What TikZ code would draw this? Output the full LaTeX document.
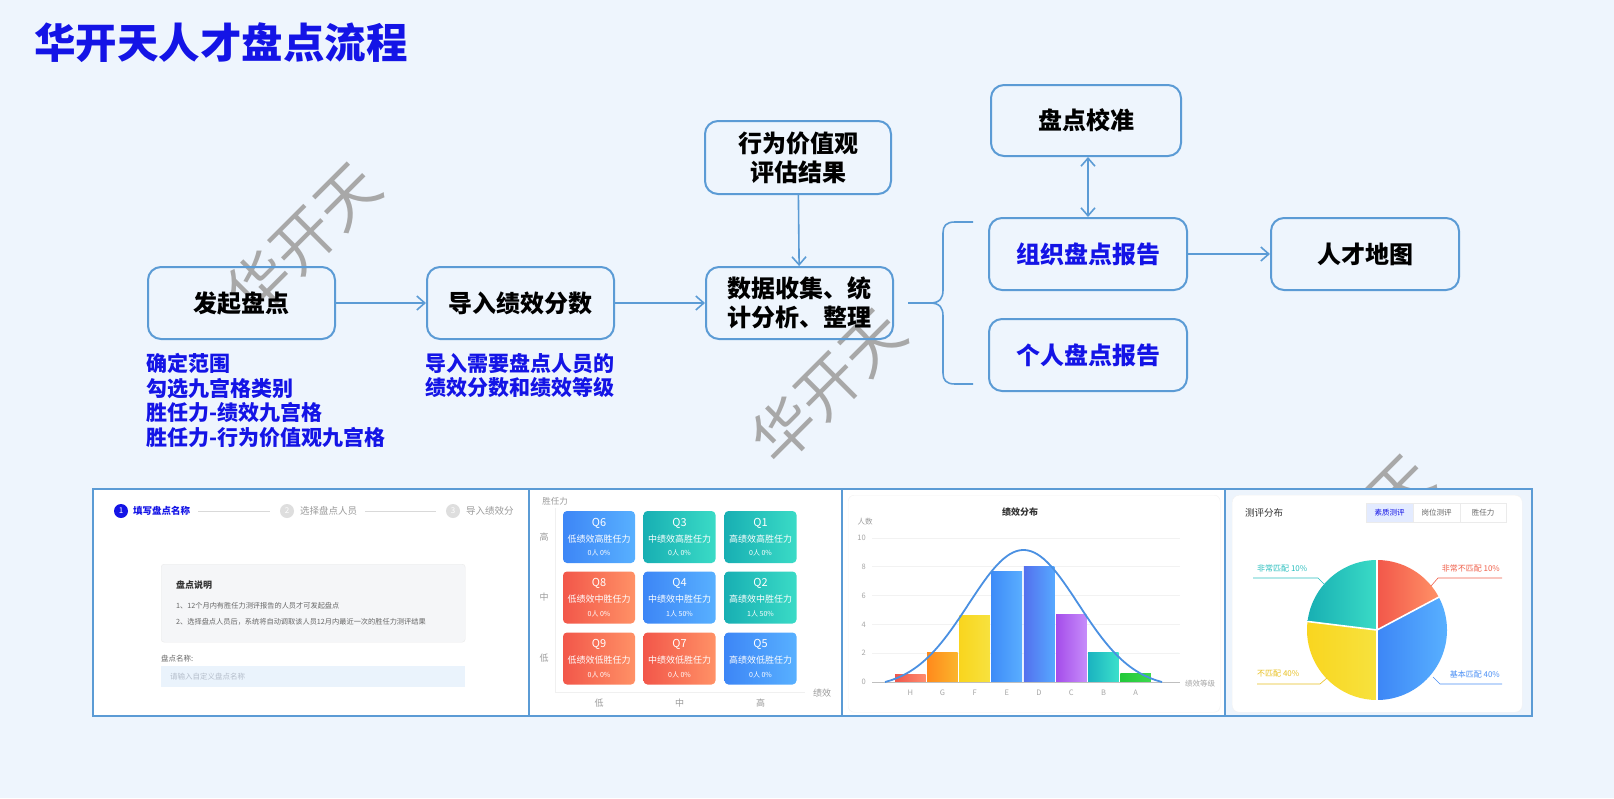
\documentclass[tikz,border=0pt]{standalone}
\usepackage{fontspec}
\setmainfont{Noto Sans CJK SC}
\usetikzlibrary{arrows.meta,calc}
\definecolor{bg}{HTML}{EEF5FD}
\definecolor{edgeblue}{HTML}{5B9BD5}
\definecolor{tblue}{HTML}{1414E6}
\definecolor{wmgray}{HTML}{A8A8A8}
\definecolor{lgray}{HTML}{9A9A9A}
\definecolor{dgray}{HTML}{333333}
\definecolor{mgray}{HTML}{666666}
\definecolor{qblueA}{HTML}{3D86F6}\definecolor{qblueB}{HTML}{58B0FF}
\definecolor{qtealA}{HTML}{18AFB3}\definecolor{qtealB}{HTML}{3ADBC6}
\definecolor{qredA}{HTML}{F2574A}\definecolor{qredB}{HTML}{FF9166}
\definecolor{bHa}{HTML}{F0564C}\definecolor{bHb}{HTML}{FF8C6E}
\definecolor{bGa}{HTML}{FF8A1C}\definecolor{bGb}{HTML}{FBB52C}
\definecolor{bFa}{HTML}{F9D51E}\definecolor{bFb}{HTML}{F7E23E}
\definecolor{bEa}{HTML}{3E8CF8}\definecolor{bEb}{HTML}{5AAEFF}
\definecolor{bDa}{HTML}{5470EE}\definecolor{bDb}{HTML}{56A8FF}
\definecolor{bCa}{HTML}{A54DEA}\definecolor{bCb}{HTML}{C68CFA}
\definecolor{bBa}{HTML}{1BB3C0}\definecolor{bBb}{HTML}{3BE0CB}
\definecolor{bAa}{HTML}{22C93A}\definecolor{bAb}{HTML}{3ED84E}
\definecolor{pRed}{HTML}{F0604A}
\definecolor{pTeal}{HTML}{2BBFBF}
\definecolor{pYel}{HTML}{E8C020}
\definecolor{pBlue}{HTML}{4A8FF5}
\newcommand\fsz[2]{\fontsize{#1}{#2}\selectfont}
\newcommand\qcell[7]{%
  \node[qbox, left color=#4A, right color=#4B] (#1) at (#2,#3) {};
  \node[qtxt, font=\fsz{11}{11}] at ($(#1.north)+(0,12.3)$) {#5};
  \node[qtxt, font=\fsz{9}{9}] at ($(#1.north)+(0,28)$) {#6};
  \node[qtxt, font=\fsz{7}{7}] at ($(#1.north)+(0,42.3)$) {#7};
}
\begin{document}
\begin{tikzpicture}[x=1pt,y=-1pt,
  flowbox/.style={draw=edgeblue, line width=2pt, rounded corners=13pt, align=center, inner sep=0pt, font=\fsz{24}{29}\bfseries},
  link/.style={draw=edgeblue, line width=1.6pt, -{Straight Barb[length=8pt,width=14pt,line width=1.6pt]}},
  wmark/.style={text=wmgray, font=\fsz{62}{62}, inner sep=0pt},
  note/.style={text=tblue, font=\fsz{21}{24.6}\bfseries, inner sep=0pt, align=left, anchor=north west},
  frame/.style={draw=edgeblue, line width=2pt},
  small/.style={inner sep=0pt},
  qbox/.style={rounded corners=4pt, minimum width=72pt, minimum height=52pt, inner sep=0pt},
  qtxt/.style={text=white, inner sep=0pt},
  stepc/.style={circle, minimum size=14pt, inner sep=0pt, text=white, font=\fsz{8}{8}},
]
\useasboundingbox (0,0) rectangle (1614,798);
\fill[bg] (0,0) rectangle (1614,798);

% watermarks
\node[wmark, rotate=45] (wm1) at (303,240) {华开天};
\node[wmark, rotate=45] (wm2) at (828,386) {华开天};
\node[wmark, rotate=45] (wm3) at (1356,532) {华开天};

% title
\node[anchor=west, inner sep=0pt, text=tblue, font=\fsz{41.5}{44}\bfseries] (title) at (34,43) {华开天人才盘点流程};

% flow boxes
\node[flowbox, minimum width=187pt, minimum height=72pt] (n1) at (241.5,303) {发起盘点};
\node[flowbox, minimum width=187pt, minimum height=72pt] (n2) at (520.5,303) {导入绩效分数};
\node[flowbox, minimum width=187pt, minimum height=72pt] (n3) at (799.5,303) {数据收集、统\\计分析、整理};
\node[flowbox, minimum width=186pt, minimum height=73pt] (n4) at (798,157.5) {行为价值观\\评估结果};
\node[flowbox, minimum width=190pt, minimum height=71pt] (n5) at (1086,120.5) {盘点校准};
\node[flowbox, minimum width=198pt, minimum height=72pt, text=tblue] (n6) at (1088,254) {组织盘点报告};
\node[flowbox, minimum width=198pt, minimum height=72pt, text=tblue] (n7) at (1088,355) {个人盘点报告};
\node[flowbox, minimum width=188pt, minimum height=72pt] (n8) at (1365,254) {人才地图};

\draw[link] (n1) -- (n2);
\draw[link] (n2) -- (n3);
\draw[link] (n4) -- (n3);
\draw[link, {Straight Barb[length=8pt,width=14pt,line width=1.6pt]}-{Straight Barb[length=8pt,width=14pt,line width=1.6pt]}] (n5.south -| n6.north) -- (n6.north);
\draw[link] (n6) -- (n8);

% bracket
\coordinate (bs) at ($(n3.east)+(14,0)$);
\coordinate (bt) at (973,222);
\coordinate (bb) at (973,384);
\draw[edgeblue, line width=1.6pt] (bs) -- (930,303) .. controls (940,303) and (943,298) .. (943,290) -- (943,233) .. controls (943,226) and (946,222) .. (955,222) -- (bt);
\draw[edgeblue, line width=1.6pt] (930,303) .. controls (940,303) and (943,308) .. (943,316) -- (943,373) .. controls (943,380) and (946,384) .. (955,384) -- (bb);

% notes
\node[note] (a1) at (146,353) {确定范围\\勾选九宫格类别\\胜任力-绩效九宫格\\胜任力-行为价值观九宫格};
\node[note] (a2) at (425,353) {导入需要盘点人员的\\绩效分数和绩效等级};

% ===== panels =====
\draw[frame, fill=white] (93,489) rectangle (529,716);
\draw[frame, fill=white] (529,489) rectangle (842,716);
\draw[frame, fill=white] (842,489) rectangle (1225,716);
\draw[frame, fill={rgb,255:red,237;green,244;blue,252}] (1225,489) rectangle (1532,716);

% panel 1
\node[stepc, fill=tblue] (s1) at (121,511) {1};
\node[small, anchor=west, text=tblue, font=\fsz{9.5}{10}\bfseries] (s1t) at (133,511) {填写盘点名称};
\node[stepc, fill=black!13] (s2) at (287,511) {2};
\node[small, anchor=west, text=lgray, font=\fsz{9.5}{10}] (s2t) at (300,511) {选择盘点人员};
\node[stepc, fill=black!13] (s3) at (453,511) {3};
\node[small, anchor=west, text=lgray, font=\fsz{9.5}{10}] (s3t) at (466,511) {导入绩效分};
\draw[black!15, line width=0.7pt] ($(s1t.east)+(8,0)$) -- ($(s2.west)+(-10,0)$);
\draw[black!15, line width=0.7pt] ($(s2t.east)+(8,0)$) -- ($(s3.west)+(-10,0)$);
\node[draw=black!8, fill={rgb,255:red,245;green,246;blue,248}, rounded corners=3pt, minimum width=304pt, minimum height=78pt, anchor=north west, inner sep=0pt] (pbox) at (161,564) {};
\node[small, anchor=west, text=dgray, font=\fsz{9}{9}\bfseries] (pt1) at (176,585) {盘点说明};
\node[small, anchor=west, text=mgray, font=\fsz{7.2}{8}] (pt2) at (176,606) {1、12个月内有胜任力测评报告的人员才可发起盘点};
\node[small, anchor=west, text=mgray, font=\fsz{7.2}{8}] (pt3) at (176,622) {2、选择盘点人员后，系统将自动调取该人员12月内最近一次的胜任力测评结果};
\node[small, anchor=west, text=mgray, font=\fsz{7.5}{8}] (pt4) at (161,659) {盘点名称:};
\node[fill={rgb,255:red,234;green,243;blue,252}, minimum width=304pt, minimum height=21pt, anchor=north west, inner sep=0pt] (inp) at (161,666) {};
\node[small, anchor=west, text={rgb,255:red,181;green,190;blue,203}, font=\fsz{7.5}{8}] (pt5) at (170,677) {请输入自定义盘点名称};

% panel 2
\node[small, text=lgray, font=\fsz{8.5}{9}] (ax1) at (555,501) {胜任力};
\draw[black!6, line width=0.8pt] (555,508) -- (555,692) -- (805,692);
\qcell{q6}{599}{537}{qblue}{Q6}{低绩效高胜任力}{0人 0\%}
\qcell{q3}{679.5}{537}{qteal}{Q3}{中绩效高胜任力}{0人 0\%}
\qcell{q1}{760.5}{537}{qteal}{Q1}{高绩效高胜任力}{0人 0\%}
\qcell{q8}{599}{597.5}{qred}{Q8}{低绩效中胜任力}{0人 0\%}
\qcell{q4}{679.5}{597.5}{qblue}{Q4}{中绩效中胜任力}{1人 50\%}
\qcell{q2}{760.5}{597.5}{qteal}{Q2}{高绩效中胜任力}{1人 50\%}
\qcell{q9}{599}{658.5}{qred}{Q9}{低绩效低胜任力}{0人 0\%}
\qcell{q7}{679.5}{658.5}{qred}{Q7}{中绩效低胜任力}{0人 0\%}
\qcell{q5}{760.5}{658.5}{qblue}{Q5}{高绩效低胜任力}{0人 0\%}
\node[small, text=lgray, font=\fsz{9}{9}] (r1) at (544,537) {高};
\node[small, text=lgray, font=\fsz{9}{9}] (r2) at (544,597.5) {中};
\node[small, text=lgray, font=\fsz{9}{9}] (r3) at (544,658.5) {低};
\node[small, text=lgray, font=\fsz{9}{9}] (c1) at (599,703) {低};
\node[small, text=lgray, font=\fsz{9}{9}] (c2) at (679.5,703) {中};
\node[small, text=lgray, font=\fsz{9}{9}] (c3) at (760.5,703) {高};
\node[small, text=lgray, font=\fsz{9}{9}] (ax2) at (822,693) {绩效};

% panel 3
\node[draw=black!5, fill=white, rounded corners=6pt, minimum width=372pt, minimum height=217pt, anchor=north west, inner sep=0pt] (card3) at (848,495) {};
\node[small, text=dgray, font=\fsz{9}{9}\bfseries] (t3) at (1020,512) {绩效分布};
\node[small, text=lgray, font=\fsz{7.5}{8}] (yl) at (865,522) {人数};
\foreach \v/\yy in {10/538,8/566.8,6/595.6,4/624.4,2/653.2}{
  \draw[black!5, line width=0.7pt] (872,\yy) -- (1180,\yy);
  \node[small, anchor=east, text=black!35, font=\fsz{7.5}{8}] at (866,\yy) {\v};
}
\node[small, anchor=east, text=black!35, font=\fsz{7.5}{8}] at (866,682) {0};
\foreach \i/\h/\lab in {0/0.5/H,1/2.05/G,2/4.6/F,3/7.7/E,4/8.05/D,5/4.7/C,6/2.05/B,7/0.6/A}{
  \pgfmathsetmacro\xl{895+\i*32.2}
  \pgfmathsetmacro\xr{\xl+30.5}
  \pgfmathsetmacro\yt{682-\h*14.4}
  \shade[left color=b\lab a, right color=b\lab b] (\xl,682) rectangle (\xr,\yt);
  \node[small, text=black!35, font=\fsz{7.5}{8}] at ({(\xl+\xr)/2},693) {\lab};
}
\draw[black!25, line width=0.8pt] (872,682) -- (1180,682);
\node[small, text=black!35, font=\fsz{7.5}{8}] (xl) at (1200,684) {绩效等级};
\draw[color={rgb,255:red,74;green,144;blue,226}, line width=1.8pt] plot[domain=885:1162, samples=90, smooth] (\x, {682-132*(exp(-0.5*((\x-1023.5)/55)^2)-0.042)/0.958});

% panel 4
\node[draw=black!5, fill=white, rounded corners=7pt, minimum width=290pt, minimum height=217pt, anchor=north west, inner sep=0pt] (card4) at (1232,495) {};
\node[small, anchor=west, text=dgray, font=\fsz{9.5}{10}] (t4) at (1245,513) {测评分布};
\node[fill={rgb,255:red,227;green,235;blue,255}, draw=black!8, minimum width=47pt, minimum height=19pt, inner sep=0pt, text=tblue, font=\fsz{7.5}{8}] (tab1) at (1389.5,512.5) {素质测评};
\node[fill=white, draw=black!8, minimum width=47pt, minimum height=19pt, inner sep=0pt, text=mgray, font=\fsz{7.5}{8}] (tab2) at (1436.5,512.5) {岗位测评};
\node[fill=white, draw=black!8, minimum width=46pt, minimum height=19pt, inner sep=0pt, text=mgray, font=\fsz{7.5}{8}] (tab3) at (1483,512.5) {胜任力};
\begin{scope}[shift={(1377,630)}]
  \shade[left color=qredA, right color=qredB] (0pt,0pt) -- (28:70pt) arc[start angle=28, end angle=90, radius=70pt] -- cycle;
  \shade[left color=qblueA, right color=qblueB] (0pt,0pt) -- (-90:70pt) arc[start angle=-90, end angle=28, radius=70pt] -- cycle;
  \shade[left color=bFa, right color=bFb] (0pt,0pt) -- (173:70pt) arc[start angle=173, end angle=270, radius=70pt] -- cycle;
  \shade[left color=qtealA, right color=qtealB] (0pt,0pt) -- (90:70pt) arc[start angle=90, end angle=173, radius=70pt] -- cycle;
  \foreach \a in {28,90,173,270}{\draw[white, line width=1.6pt] (0pt,0pt) -- (\a:71pt);}
\end{scope}
\node[small, anchor=west, text=pTeal, font=\fsz{8}{8}] (l1) at (1257,568) {非常匹配 10\%};
\draw[pTeal, line width=0.6pt] (1253,578) -- (1318,578) -- (1326,586);
\node[small, anchor=east, text=pRed, font=\fsz{8}{8}] (l2) at (1500,568) {非常不匹配 10\%};
\draw[pRed, line width=0.6pt] (1502,578) -- (1438,578) -- (1431,586);
\node[small, anchor=west, text=pYel, font=\fsz{8}{8}] (l3) at (1257,674) {不匹配 40\%};
\draw[pYel, line width=0.6pt] (1257,684) -- (1320,684) -- (1327,678);
\node[small, anchor=east, text=pBlue, font=\fsz{8}{8}] (l4) at (1500,674) {基本匹配 40\%};
\draw[pBlue, line width=0.6pt] (1502,684) -- (1440,684) -- (1433,677);
\end{tikzpicture}
\end{document}
